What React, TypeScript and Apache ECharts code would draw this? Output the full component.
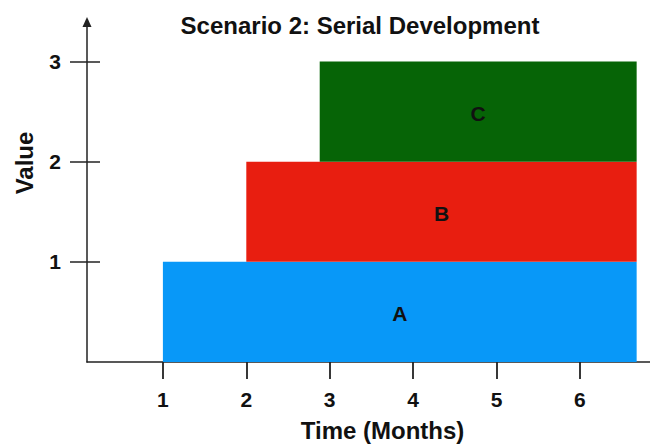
import React, { useEffect, useRef } from "react";
import * as echarts from "echarts";

const taskNames = ["A", "B", "C"];
const startMonths = [1, 2, 2.88];
const endMonths = [6.68, 6.68, 6.68];
const bottomValues = [0, 1, 2];
const topValues = [1, 2, 3];
const taskColors = ["#0898f8", "#e81e10", "#066406"];
const xTickValues = [1, 2, 3, 4, 5, 6];
const yTickValues = [1, 2, 3];

const FONT = "'Liberation Sans', Arial, Helvetica, sans-serif";

export default function App() {
  const ref = useRef<HTMLDivElement>(null);
  useEffect(() => {
    if (!ref.current) return;
    const chart = echarts.init(ref.current, undefined, { renderer: "svg" });
    const data = taskNames.map((n, i) => [startMonths[i], endMonths[i], bottomValues[i], topValues[i], n]);
    chart.setOption({
      animation: false,
      backgroundColor: "#ffffff",
      title: {
        text: "Scenario 2: Serial Development",
        left: 355,
        top: 8,
        textAlign: "center",
        textStyle: { fontFamily: FONT, fontSize: 24, fontWeight: "bold", color: "#111" },
      },
      grid: { left: 87, right: 0, top: 22, bottom: 81 },
      xAxis: {
        type: "value",
        min: 0.09,
        max: 6.84,
        name: "Time (Months)",
        nameLocation: "middle",
        nameGap: 56,
        nameTextStyle: { fontFamily: FONT, fontSize: 24, fontWeight: "bold", color: "#111", padding: [0, 0, 0, 28] },
        axisLine: { show: true, lineStyle: { color: "#222", width: 1.5 } },
        axisTick: { show: true, customValues: xTickValues, length: 17, lineStyle: { color: "#222", width: 1.8 } },
        axisLabel: {
          customValues: xTickValues,
          margin: 27,
          fontFamily: FONT,
          fontSize: 21,
          fontWeight: "bold",
          color: "#111",
        },
        splitLine: { show: false },
      },
      yAxis: [
        {
          type: "value",
          min: 0,
          max: 3.395,
          name: "Value",
          nameLocation: "middle",
          nameGap: 51,
          nameTextStyle: { fontFamily: FONT, fontSize: 24, fontWeight: "bold", color: "#111", padding: [0, 0, 0, 58] },
          axisLine: {
            show: true,
            symbol: ["none", "triangle"],
            symbolSize: [9, 10],
            lineStyle: { color: "#222", width: 1.5 },
          },
          axisTick: { show: true, customValues: yTickValues, length: 17, lineStyle: { color: "#222", width: 1.5 } },
          axisLabel: {
            customValues: yTickValues,
            margin: 26,
            fontFamily: FONT,
            fontSize: 21,
            fontWeight: "bold",
            color: "#111",
          },
          splitLine: { show: false },
        },
        {
          type: "value",
          min: 0,
          max: 3.395,
          position: "left",
          axisLine: { show: false },
          axisTick: { show: true, inside: true, customValues: yTickValues, length: 13, lineStyle: { color: "#222", width: 1.5 } },
          axisLabel: { show: false },
          splitLine: { show: false },
        },
      ],
      series: [
        {
          type: "custom",
          xAxisIndex: 0,
          yAxisIndex: 0,
          z: 1,
          data,
          encode: { x: [0, 1], y: [2, 3] },
          renderItem: (params: any, api: any) => {
            const i = params.dataIndex;
            const p0 = api.coord([api.value(0), api.value(3)]);
            const p1 = api.coord([api.value(1), api.value(2)]);
            return {
              type: "rect",
              shape: { x: p0[0], y: p0[1], width: p1[0] - p0[0], height: p1[1] - p0[1] },
              style: { fill: taskColors[i] },
              textContent: {
                style: {
                  text: taskNames[i],
                  fontFamily: FONT,
                  fontSize: 21,
                  fontWeight: "bold",
                  fill: "#111",
                },
              },
              textConfig: { position: "inside", offset: [0, 2] },
            };
          },
        },
      ],
    });
    return () => chart.dispose();
  }, []);
  return <div ref={ref} style={{ position: "fixed", left: 0, top: 0, width: 650, height: 447 }} />;
}
